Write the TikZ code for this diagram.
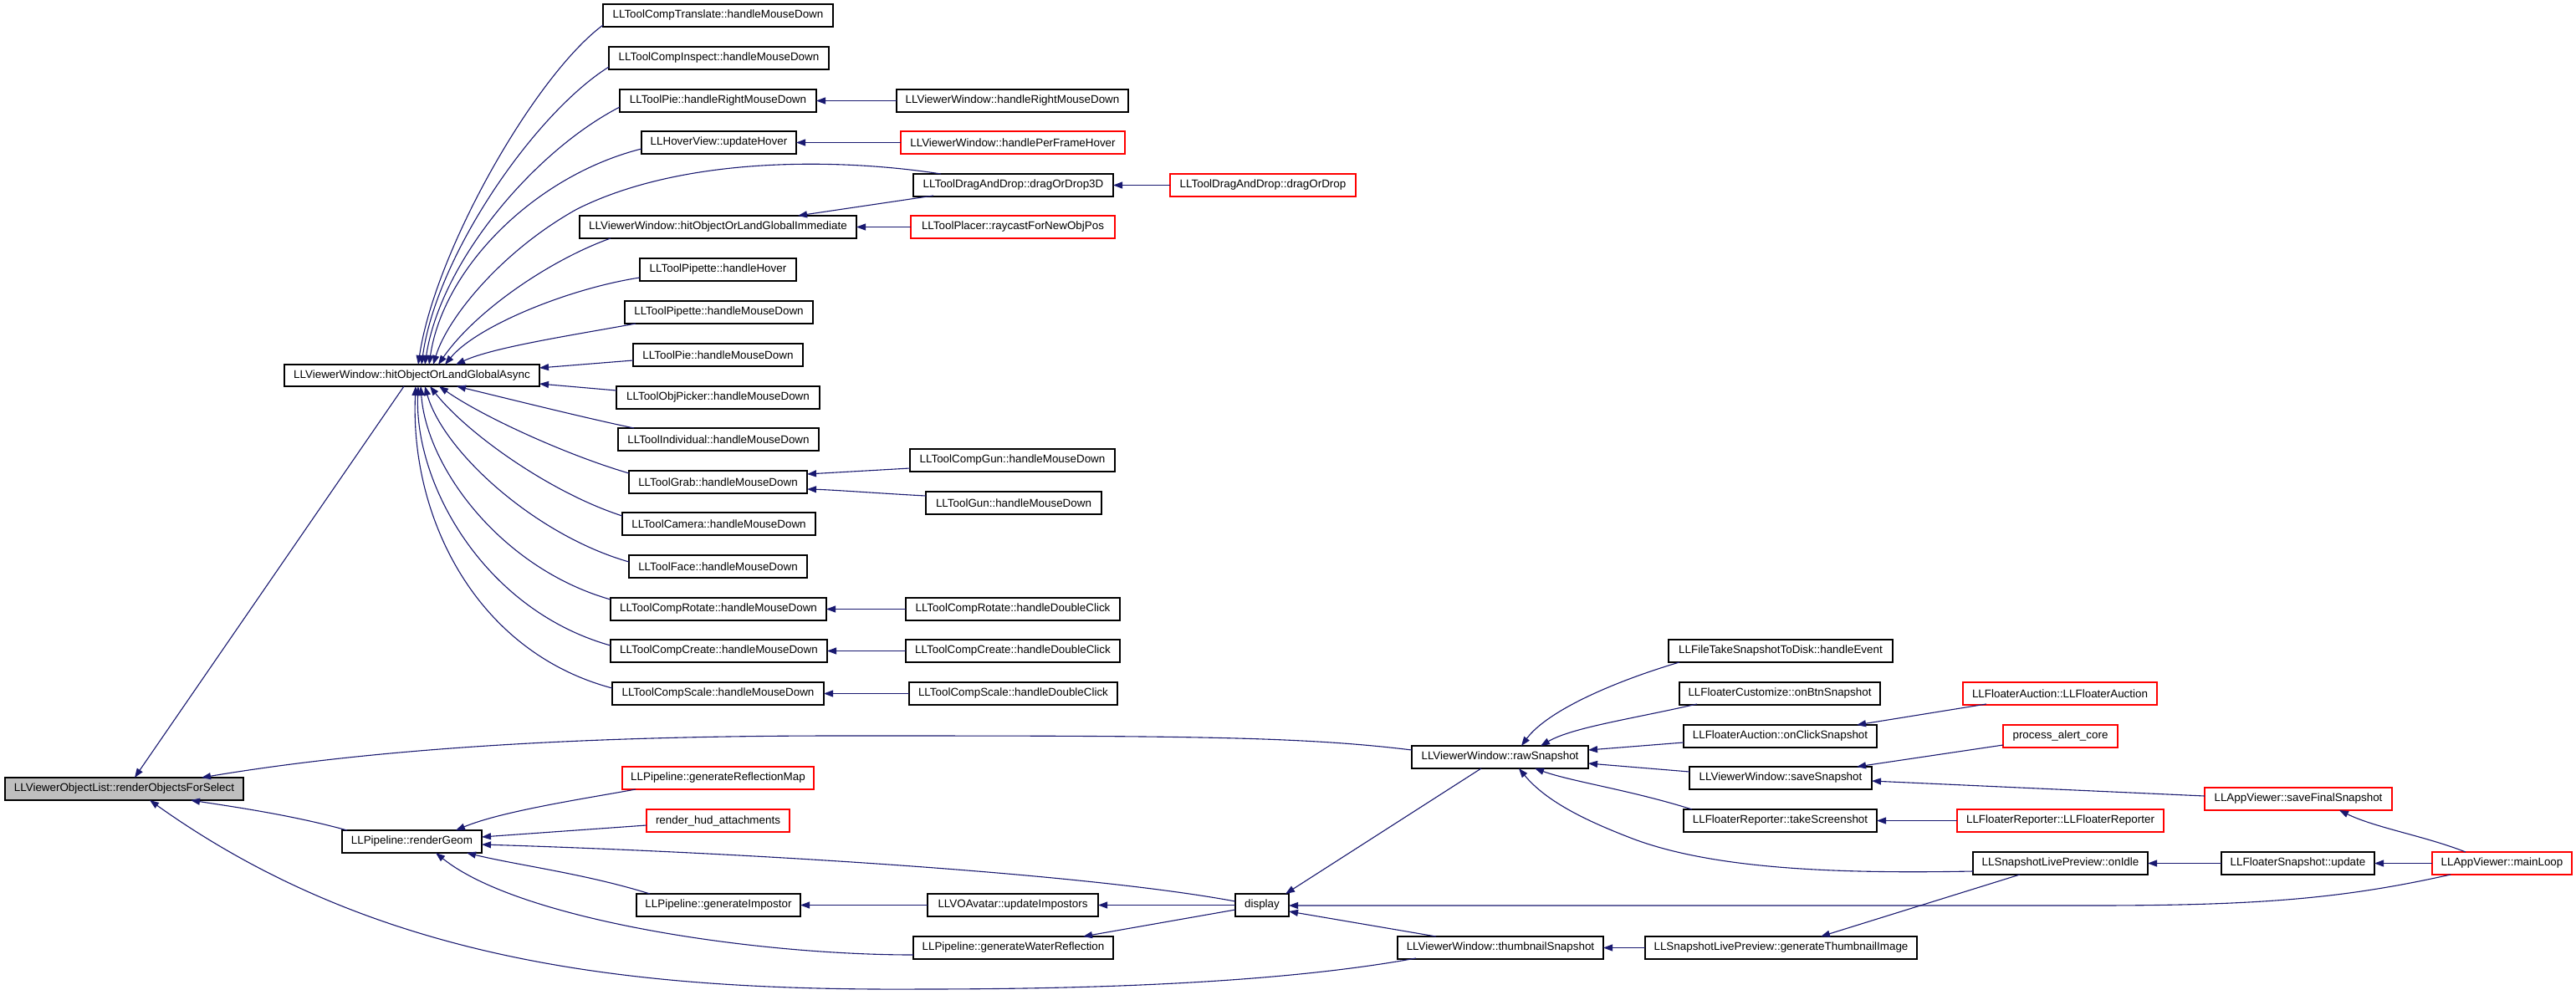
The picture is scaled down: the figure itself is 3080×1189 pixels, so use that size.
\documentclass[tikz,border=0pt]{standalone}
\usepackage{fontspec}
\setmainfont{Liberation Sans}
\usetikzlibrary{arrows.meta,calc}
\definecolor{edgec}{HTML}{191970}
\definecolor{redc}{HTML}{FF0000}
\definecolor{grayc}{HTML}{BFBFBF}
\begin{document}
\begin{tikzpicture}[x=1pt,y=-1pt,
 nd/.style={draw=black, line width=1.1pt, inner sep=0pt, outer sep=0pt, anchor=north west, font=\fontsize{13.4}{15}\selectfont, minimum height=27pt},
 rnd/.style={nd, draw=redc},
 gnd/.style={nd, fill=grayc},
 edge/.style={draw=edgec, line width=1.1pt, -{Triangle[length=11pt,width=8pt]}},
]
\useasboundingbox[fill=white] (0,0) rectangle (3080,1189);
% nodes
\node[gnd, minimum width=285pt] (rofs) at (6,930) {LLViewerObjectList::renderObjectsForSelect};
\node[nd, minimum width=305pt, minimum height=26pt] (async) at (340,436) {LLViewerWindow::hitObjectOrLandGlobalAsync};
\node[nd, minimum width=167pt] (rgeom) at (409,993) {LLPipeline::renderGeom};
\node[nd, minimum width=275pt] (ctrans) at (721,5) {LLToolCompTranslate::handleMouseDown};
\node[nd, minimum width=263pt] (cinsp) at (728,56) {LLToolCompInspect::handleMouseDown};
\node[nd, minimum width=235pt] (prmd) at (741,107) {LLToolPie::handleRightMouseDown};
\node[nd, minimum width=185pt] (hover) at (767,157) {LLHoverView::updateHover};
\node[nd, minimum width=331pt] (imm) at (693,258) {LLViewerWindow::hitObjectOrLandGlobalImmediate};
\node[nd, minimum width=187pt] (piphov) at (765,309) {LLToolPipette::handleHover};
\node[nd, minimum width=225pt] (pipmd) at (747,360) {LLToolPipette::handleMouseDown};
\node[nd, minimum width=203pt] (piemd) at (757,411) {LLToolPie::handleMouseDown};
\node[nd, minimum width=243pt] (objp) at (737,462) {LLToolObjPicker::handleMouseDown};
\node[nd, minimum width=240pt] (indiv) at (739,512) {LLToolIndividual::handleMouseDown};
\node[nd, minimum width=213pt] (grab) at (752,563) {LLToolGrab::handleMouseDown};
\node[nd, minimum width=231pt] (cam) at (744,613) {LLToolCamera::handleMouseDown};
\node[nd, minimum width=213pt] (face) at (752,664) {LLToolFace::handleMouseDown};
\node[nd, minimum width=258pt] (crot) at (730,715) {LLToolCompRotate::handleMouseDown};
\node[nd, minimum width=259pt] (ccre) at (730,765) {LLToolCompCreate::handleMouseDown};
\node[nd, minimum width=253pt] (csca) at (732,816) {LLToolCompScale::handleMouseDown};
\node[rnd, minimum width=229pt] (refl) at (744,917) {LLPipeline::generateReflectionMap};
\node[rnd, minimum width=171pt] (hud) at (773,968) {render\_hud\_attachments};
\node[nd, minimum width=196pt] (gimp) at (761,1069) {LLPipeline::generateImpostor};
\node[nd, minimum width=277pt] (vwrmd) at (1072,107) {LLViewerWindow::handleRightMouseDown};
\node[rnd, minimum width=268pt] (pfh) at (1077,157) {LLViewerWindow::handlePerFrameHover};
\node[nd, minimum width=239pt] (dd3d) at (1092,208) {LLToolDragAndDrop::dragOrDrop3D};
\node[rnd, minimum width=244pt] (rayc) at (1089,258) {LLToolPlacer::raycastForNewObjPos};
\node[nd, minimum width=245pt] (cgun) at (1088,537) {LLToolCompGun::handleMouseDown};
\node[nd, minimum width=210pt] (gun) at (1107,588) {LLToolGun::handleMouseDown};
\node[nd, minimum width=256pt] (crotdc) at (1083,715) {LLToolCompRotate::handleDoubleClick};
\node[nd, minimum width=256pt] (ccredc) at (1083,765) {LLToolCompCreate::handleDoubleClick};
\node[nd, minimum width=249pt] (cscadc) at (1087,816) {LLToolCompScale::handleDoubleClick};
\node[nd, minimum width=204pt] (upimp) at (1109,1069) {LLVOAvatar::updateImpostors};
\node[nd, minimum width=239pt] (gwr) at (1092,1120) {LLPipeline::generateWaterReflection};
\node[rnd, minimum width=222pt] (dd) at (1399,208) {LLToolDragAndDrop::dragOrDrop};
\node[nd, minimum width=64pt] (display) at (1477,1069) {display};
\node[nd, minimum width=211pt] (raw) at (1688,892) {LLViewerWindow::rawSnapshot};
\node[nd, minimum width=246pt] (thumb) at (1671,1120) {LLViewerWindow::thumbnailSnapshot};
\node[nd, minimum width=268pt] (hev) at (1995,765) {LLFileTakeSnapshotToDisk::handleEvent};
\node[nd, minimum width=240pt] (btn) at (2008,816) {LLFloaterCustomize::onBtnSnapshot};
\node[nd, minimum width=231pt] (ocs) at (2013,867) {LLFloaterAuction::onClickSnapshot};
\node[nd, minimum width=218pt] (save) at (2020,917) {LLViewerWindow::saveSnapshot};
\node[nd, minimum width=231pt] (take) at (2013,968) {LLFloaterReporter::takeScreenshot};
\node[nd, minimum width=325pt] (gti) at (1967,1120) {LLSnapshotLivePreview::generateThumbnailImage};
\node[rnd, minimum width=232pt] (fauc) at (2347,816) {LLFloaterAuction::LLFloaterAuction};
\node[rnd, minimum width=137pt] (pac) at (2395,867) {process\_alert\_core};
\node[rnd, minimum width=247pt] (frep) at (2340,968) {LLFloaterReporter::LLFloaterReporter};
\node[nd, minimum width=209pt] (idle) at (2359,1019) {LLSnapshotLivePreview::onIdle};
\node[rnd, minimum width=224pt] (sfs) at (2636,942) {LLAppViewer::saveFinalSnapshot};
\node[nd, minimum width=183pt] (fsu) at (2656,1019) {LLFloaterSnapshot::update};
\node[rnd, minimum width=167pt] (ml) at (2908,1019) {LLAppViewer::mainLoop};
% async upper fan
\draw[edge] ($(ctrans.north west)+(0,25)$) .. controls (640,90) and (520,300) .. ($(async.north west)+(160,0)$);
\draw[edge] ($(cinsp.north west)+(0,24)$) .. controls (640,135) and (522,305) .. ($(async.north west)+(164,0)$);
\draw[edge] ($(prmd.north west)+(0,21)$) .. controls (640,180) and (527,312) .. ($(async.north west)+(168,0)$);
\draw[edge] ($(hover.north west)+(0,21)$) .. controls (640,210) and (530,320) .. ($(async.north west)+(173,0)$);
\draw[edge] ($(dd3d.north west)+(33,0)$) .. controls (1010,190) and (820,185) .. (690,250) .. controls (600,300) and (535,380) .. ($(async.north west)+(178,0)$);
\draw[edge] ($(imm.north west)+(37,27)$) .. controls (660,310) and (570,370) .. ($(async.north west)+(184,0)$);
\draw[edge] ($(piphov.north west)+(0,23)$) .. controls (680,345) and (570,390) .. ($(async.north west)+(192,0)$);
\draw[edge] ($(pipmd.north west)+(13,27)$) .. controls (690,400) and (590,415) .. ($(async.north west)+(205,0)$);
\draw[edge] ($(piemd.north west)+(0,20)$) -- ($(async.north west)+(305,4)$);
\draw[edge] ($(objp.north west)+(0,5)$) -- ($(async.north west)+(305,23)$);
% async lower fan
\draw[edge] ($(indiv.north west)+(19,0)$) .. controls (700,500) and (600,475) .. ($(async.north west)+(206,26)$);
\draw[edge] ($(grab.north west)+(0,3)$) .. controls (680,545) and (580,500) .. ($(async.north west)+(185,26)$);
\draw[edge] ($(cam.north west)+(0,4)$) .. controls (660,590) and (560,520) .. ($(async.north west)+(174,26)$);
\draw[edge] ($(face.north west)+(0,8)$) .. controls (640,640) and (530,540) .. ($(async.north west)+(168,26)$);
\draw[edge] ($(crot.north west)+(0,2)$) .. controls (600,680) and (510,560) .. ($(async.north west)+(163,26)$);
\draw[edge] ($(ccre.north west)+(0,7)$) .. controls (580,730) and (495,580) .. ($(async.north west)+(160,26)$);
\draw[edge] ($(csca.north west)+(0,7)$) .. controls (570,780) and (490,620) .. ($(async.north west)+(157,26)$);
% to renderObjectsForSelect
\draw[edge] ($(async.north west)+(143,26)$) -- ($(rofs.north west)+(155,0)$);
\draw[edge] ($(raw.north west)+(0,5)$) .. controls (1550,880) and (1400,880) .. (1000,880) .. controls (700,880) and (450,895) .. ($(rofs.north west)+(235,0)$);
\draw[edge] ($(rgeom.north west)+(6,0)$) .. controls (350,975) and (280,965) .. ($(rofs.north west)+(222,27)$);
\draw[edge] ($(thumb.north west)+(22,26)$) .. controls (1550,1172) and (1350,1183) .. (1100,1183) .. controls (750,1185) and (450,1150) .. ($(rofs.north west)+(173,27)$);
% to renderGeom
\draw[edge] ($(refl.north west)+(16,27)$) .. controls (700,955) and (600,970) .. ($(rgeom.north west)+(136,0)$);
\draw[edge] ($(hud.north west)+(0,19)$) -- ($(rgeom.north west)+(167,8)$);
\draw[edge] ($(display.north west)+(0,9)$) .. controls (1300,1045) and (900,1020) .. ($(rgeom.north west)+(167,17)$);
\draw[edge] ($(gimp.north west)+(16,0)$) .. controls (700,1045) and (620,1035) .. ($(rgeom.north west)+(149,27)$);
\draw[edge] ($(gwr.north west)+(0,22)$) .. controls (900,1142) and (620,1100) .. ($(rgeom.north west)+(112,27)$);
% display
\draw[edge] (upimp.west) -- (gimp.east);
\draw[edge] (display.west) -- (upimp.east);
\draw[edge] ($(display.north west)+(0,19)$) -- ($(gwr.north west)+(203,0)$);
\draw[edge] ($(raw.north west)+(83,27)$) -- ($(display.north west)+(60,0)$);
\draw[edge] ($(thumb.north west)+(46,0)$) -- ($(display.north west)+(64,21)$);
\draw[edge] ($(ml.north west)+(22,27)$) .. controls (2800,1075) and (2700,1083) .. (2500,1083) -- ($(display.north west)+(64,14)$);
% rawSnapshot
\draw[edge] ($(hev.north west)+(13,27)$) .. controls (1930,815) and (1850,850) .. ($(raw.north west)+(131,0)$);
\draw[edge] ($(btn.north west)+(21,26)$) .. controls (1950,860) and (1880,870) .. ($(raw.north west)+(154,0)$);
\draw[edge] ($(ocs.north west)+(0,21)$) -- ($(raw.north west)+(211,5)$);
\draw[edge] ($(save.north west)+(0,6)$) -- ($(raw.north west)+(211,21)$);
\draw[edge] ($(take.north west)+(10,0)$) .. controls (1950,945) and (1880,935) .. ($(raw.north west)+(147,27)$);
\draw[edge] ($(idle.north west)+(0,23)$) .. controls (2200,1045) and (2050,1040) .. (1952,1003) .. controls (1900,983) and (1850,960) .. ($(raw.north west)+(128,27)$);
% others
\draw[edge] ($(fauc.north west)+(28,26)$) -- ($(ocs.north west)+(207,0)$);
\draw[edge] ($(pac.north west)+(0,24)$) -- ($(save.north west)+(200,0)$);
\draw[edge] ($(sfs.north west)+(0,10)$) -- ($(save.north west)+(218,17)$);
\draw[edge] (frep.west) -- (take.east);
\draw[edge] (fsu.west) -- (idle.east);
\draw[edge] (ml.west) -- (fsu.east);
\draw[edge] ($(ml.north west)+(40,0)$) .. controls (2900,1000) and (2840,990) .. ($(sfs.north west)+(161,27)$);
\draw[edge] ($(idle.north west)+(56,27)$) -- ($(gti.north west)+(210,0)$);
\draw[edge] (gti.west) -- (thumb.east);
% level 2
\draw[edge] (vwrmd.west) -- (prmd.east);
\draw[edge] (pfh.west) -- (hover.east);
\draw[edge] (dd.west) -- (dd3d.east);
\draw[edge] (rayc.west) -- (imm.east);
\draw[edge] ($(dd3d.north west)+(24,26)$) -- ($(imm.north west)+(261,0)$);
\draw[edge] ($(cgun.north west)+(0,23)$) -- ($(grab.north west)+(213,4)$);
\draw[edge] ($(gun.north west)+(0,5)$) .. controls (1050,590) and (1000,586) .. ($(grab.north west)+(213,22)$);
\draw[edge] (crotdc.west) -- (crot.east);
\draw[edge] (ccredc.west) -- (ccre.east);
\draw[edge] (cscadc.west) -- (csca.east);
\end{tikzpicture}
\end{document}
